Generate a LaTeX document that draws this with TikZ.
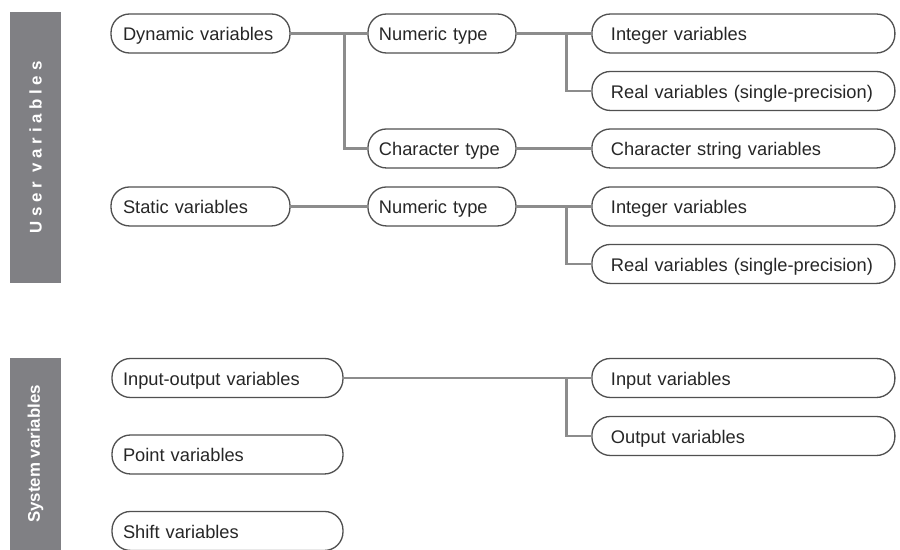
\documentclass[tikz,border=0pt]{standalone}
\usepackage{fontspec}
\setmainfont{Liberation Sans}
\newfontfamily\spacedfont[LetterSpace=28]{Liberation Sans}
\definecolor{bargray}{RGB}{128,128,132}
\definecolor{linkgray}{RGB}{140,140,140}
\definecolor{boxgray}{RGB}{80,80,80}

\begin{document}
\begin{tikzpicture}[x=0.02cm,y=-0.02cm,font=\fontsize{10.4}{12}\selectfont,
		varbox/.style={draw=boxgray,line width=0.75pt,rounded corners=0.37cm,minimum height=0.78cm,align=left,text height=8.5pt,text depth=0pt,text=black!85},
		groupbox/.style={varbox,text width=3.10cm,inner xsep=0.24cm},
		typebox/.style={varbox,text width=2.52cm,inner xsep=0.22cm},
		leafbox/.style={varbox,text width=5.3cm,inner xsep=0.38cm},
		sysbox/.style={varbox,text width=4.18cm,inner xsep=0.22cm},
		bar/.style={fill=bargray,rotate=90,text=white,font=\fontsize{9.6}{11}\selectfont\bfseries,minimum height=1.02cm},
		link/.style={draw=linkgray,line width=1.5pt}]
			\useasboundingbox (0,0) rectangle (900,550);
			
			\node (userbar) [bar,minimum width=5.42cm] at (35.5,147.5) {\spacedfont User variables};
			\node (sysbar) [bar,minimum width=3.84cm] at (35.5,454) {System variables};
			
			% user variables
			\node (dynvar) [groupbox] at (200.5,33.5) {Dynamic variables};
			\node (dynnum) [typebox,right of=dynvar,node distance=4.83cm] {Numeric type};
			\node (dynint) [leafbox,right of=dynnum,node distance=6.03cm] {Integer variables};
			\node (dynreal) [leafbox,below of=dynint,node distance=1.15cm] {Real variables (single-precision)};
			\node (dynchr) [typebox,below of=dynnum,node distance=2.3cm] {Character type};
			\node (dynstr) [leafbox,right of=dynchr,node distance=6.03cm] {Character string variables};
			
			\node (statvar) [groupbox,below of=dynvar,node distance=3.46cm] {Static variables};
			\node (statnum) [typebox,right of=statvar,node distance=4.83cm] {Numeric type};
			\node (statint) [leafbox,right of=statnum,node distance=6.03cm] {Integer variables};
			\node (statreal) [leafbox,below of=statint,node distance=1.15cm] {Real variables (single-precision)};
			
			\draw [link] (dynvar) -- (dynnum);
			\draw [link] ([xshift=-0.46cm]dynnum.west) |- (dynchr);
			\draw [link] (dynnum) -- (dynint);
			\draw [link] ([xshift=-0.5cm]dynint.west) |- (dynreal);
			\draw [link] (dynchr) -- (dynstr);
			
			\draw [link] (statvar) -- (statnum);
			\draw [link] (statnum) -- (statint);
			\draw [link] ([xshift=-0.5cm]statint.west) |- (statreal);
			
			% system variables
			\node (iovar) [sysbox] at (227.5,378) {Input-output variables};
			\node (invar) [leafbox,right of=iovar,node distance=10.32cm] {Input variables};
			\node (outvar) [leafbox,below of=invar,node distance=1.16cm] {Output variables};
			\node (ptvar) [sysbox,below of=iovar,node distance=1.53cm] {Point variables};
			\node (shvar) [sysbox,below of=ptvar,node distance=1.53cm] {Shift variables};
			
			\draw [link] (iovar) -- (invar);
			\draw [link] ([xshift=-0.5cm]invar.west) |- (outvar);
			
		\end{tikzpicture}
\end{document}
